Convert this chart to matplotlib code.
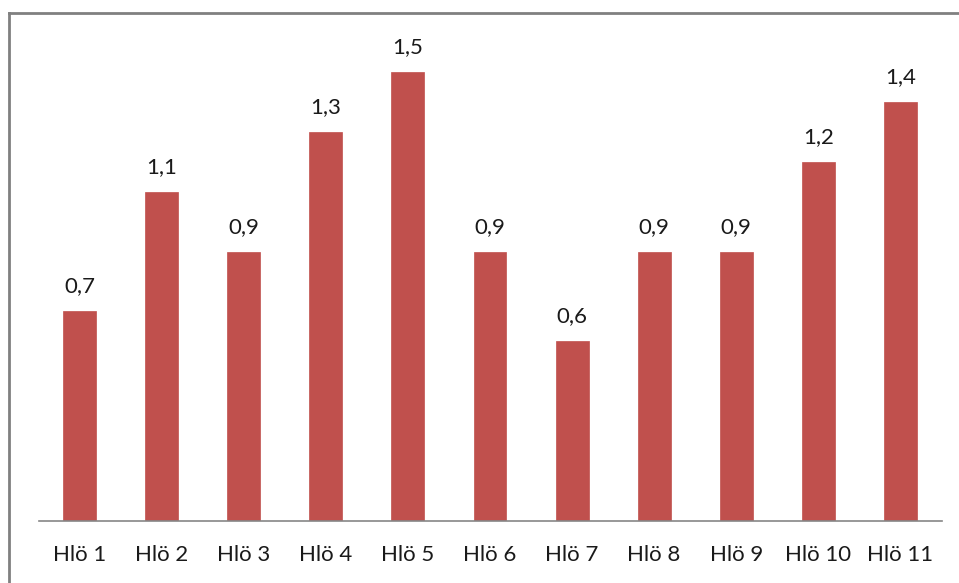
import matplotlib
matplotlib.use("Agg")
import matplotlib.pyplot as plt
from matplotlib.lines import Line2D

categories = ["Hlö 1", "Hlö 2", "Hlö 3", "Hlö 4", "Hlö 5", "Hlö 6",
              "Hlö 7", "Hlö 8", "Hlö 9", "Hlö 10", "Hlö 11"]
values = [0.7, 1.1, 0.9, 1.3, 1.5, 0.9, 0.6, 0.9, 0.9, 1.2, 1.4]

plt.rcParams['font.family'] = ['Lato', 'DejaVu Sans']

W, H = 959, 583
fig = plt.figure(figsize=(W / 100, H / 100), dpi=100)
fig.patch.set_facecolor("white")

# axes area in pixels: left, baseline, right, top
x0, x1 = 38.5, 941.5
yb, yt = 521, 42
ax = fig.add_axes([x0 / W, 1 - yb / H, (x1 - x0) / W, (yb - yt) / H])

xs = range(len(categories))
ax.bar(xs, values, width=0.4, color="#C0504D", edgecolor="#C0504D", linewidth=0.5, zorder=2)
ax.set_xlim(-0.5, len(categories) - 0.5)
ax.set_ylim(0, 1.6)

for x, v in zip(xs, values):
    ax.text(x, v + 0.05, f"{v:.1f}".replace(".", ","), ha="center", va="bottom",
            fontsize=16, color="#1a1a1a")

for s in ["left", "right", "top"]:
    ax.spines[s].set_visible(False)
ax.spines["bottom"].set_color("#868686")
ax.spines["bottom"].set_linewidth(1.2)
ax.set_yticks([])
ax.set_xticks(list(xs))
ax.set_xticklabels(categories, fontsize=16, color="#1a1a1a")
ax.tick_params(axis="x", length=0, pad=17)

# frame lines along the top and left edges of the figure
fig.add_artist(Line2D([9 / W, 1], [1 - 13 / H, 1 - 13 / H], transform=fig.transFigure,
                      color="#808080", linewidth=2))
fig.add_artist(Line2D([9 / W, 9 / W], [0, 1 - 13 / H], transform=fig.transFigure,
                      color="#808080", linewidth=2))

fig.savefig("out.png", dpi=100, facecolor="white")
